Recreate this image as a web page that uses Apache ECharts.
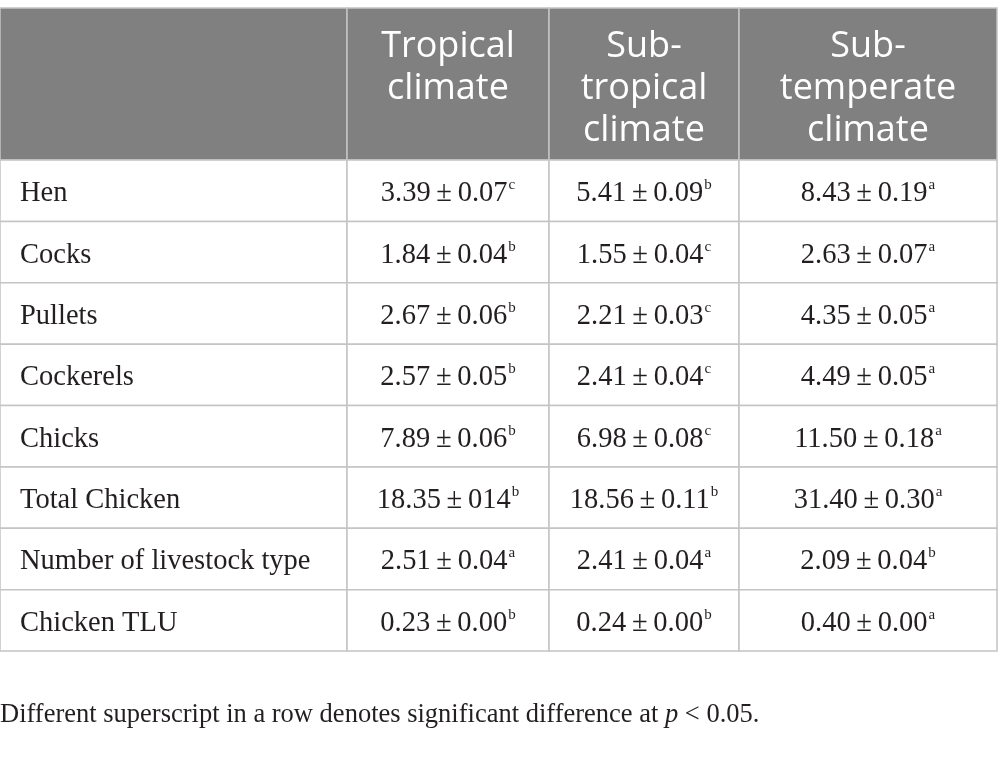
<!DOCTYPE html>
<html>
<head>
<meta charset="utf-8">
<script src="https://cdn.jsdelivr.net/npm/echarts@6/dist/echarts.min.js"></script>
<style>
  html, body { margin: 0; padding: 0; background: #fff; }
  #main { width: 998px; height: 758px; }
</style>
</head>
<body>
<div id="main"></div>
<script>
// table content
var headers = ["", "Tropical\nclimate", "Sub-\ntropical\nclimate", "Sub-\ntemperate\nclimate"]
var rowLabels = ["Hen", "Cocks", "Pullets", "Cockerels", "Chicks", "Total Chicken", "Number of livestock type", "Chicken TLU"]

var tropicalText = ["3.39 ± 0.07", "1.84 ± 0.04", "2.67 ± 0.06", "2.57 ± 0.05", "7.89 ± 0.06", "18.35 ± 014", "2.51 ± 0.04", "0.23 ± 0.00"]
var tropicalSup = ["c", "b", "b", "b", "b", "b", "a", "b"]

var subtropicalText = ["5.41 ± 0.09", "1.55 ± 0.04", "2.21 ± 0.03", "2.41 ± 0.04", "6.98 ± 0.08", "18.56 ± 0.11", "2.41 ± 0.04", "0.24 ± 0.00"]
var subtropicalSup = ["b", "c", "c", "c", "c", "b", "a", "b"]

var subtemperateText = ["8.43 ± 0.19", "2.63 ± 0.07", "4.35 ± 0.05", "4.49 ± 0.05", "11.50 ± 0.18", "31.40 ± 0.30", "2.09 ± 0.04", "0.40 ± 0.00"]
var subtemperateSup = ["a", "a", "a", "a", "a", "a", "b", "a"]

var footnote = "Different superscript in a row denotes significant difference at "

var chart = echarts.init(document.getElementById("main"))

var colEdges = [0, 347, 549, 739, 997] // pixel layout of the columns
var headTop = 8, headH = 152, bodyH = 491
var lineColor = "#c4c4c4"
var serif = "Liberation Serif"

function cellText(txt, sup) {
  return "{v|" + txt.replace(/ ± /g, "\u2009±\u2009") + "}" + (sup ? "{s|" + sup + "}" : "")
}

var grids = [], xAxes = [], yAxes = [], series = []

var columns = [
  { texts: rowLabels, sups: null, left: true },
  { texts: tropicalText, sups: tropicalSup },
  { texts: subtropicalText, sups: subtropicalSup },
  { texts: subtemperateText, sups: subtemperateSup }
]

columns.forEach(function (col, c) {
  var x0 = colEdges[c], w = colEdges[c + 1] - colEdges[c]

  // header grid
  grids.push({ left: x0, top: headTop, width: w, height: headH })
  xAxes.push({ type: "category", gridIndex: grids.length - 1, data: ["h"], show: false })
  yAxes.push({ type: "category", gridIndex: grids.length - 1, data: ["h"], show: false })
  series.push({
    type: "custom",
    xAxisIndex: grids.length - 1,
    yAxisIndex: grids.length - 1,
    data: [[0, 0, headers[c]]],
    silent: true,
    renderItem: function (params, api) {
      var p = api.coord([0, 0]), s = api.size([1, 1])
      var x = p[0] - s[0] / 2, y = p[1] - s[1] / 2
      return {
        type: "group",
        children: [
          { type: "rect", shape: { x: x, y: y, width: s[0], height: s[1] },
            style: { fill: "#808080", stroke: lineColor, lineWidth: 1.5 } },
          { type: "text", style: {
              x: p[0], y: y + 18, text: headers[c], align: "center", verticalAlign: "top",
              fill: "#ffffff", font: "36px 'Open Sans'", lineHeight: 42 } }
        ]
      }
    }
  })

  // body grid
  grids.push({ left: x0, top: headTop + headH, width: w, height: bodyH })
  xAxes.push({ type: "category", gridIndex: grids.length - 1, data: ["c"], show: false })
  yAxes.push({ type: "category", gridIndex: grids.length - 1, data: rowLabels, inverse: true, show: false })
  series.push({
    type: "custom",
    xAxisIndex: grids.length - 1,
    yAxisIndex: grids.length - 1,
    silent: true,
    data: col.texts.map(function (t, i) { return [0, i, t, col.sups ? col.sups[i] : ""] }),
    renderItem: function (params, api) {
      var i = api.value(1)
      var p = api.coord([0, i]), s = api.size([1, 1])
      var x = p[0] - s[0] / 2, y = p[1] - s[1] / 2
      var txt = col.left ? "{v|" + col.texts[i] + "}" : cellText(col.texts[i], col.sups[i])
      return {
        type: "group",
        children: [
          { type: "rect", shape: { x: x, y: y, width: s[0], height: s[1] },
            style: { fill: "#ffffff", stroke: lineColor, lineWidth: 1.5 } },
          { type: "text", style: {
              x: col.left ? x + 20 : p[0], y: p[1] + 3, text: txt,
              align: col.left ? "left" : "center", verticalAlign: "middle",
              rich: {
                v: { fontFamily: serif, fontSize: 28.5, fill: "#231f20", lineHeight: 32 },
                s: { fontFamily: serif, fontSize: 15, fill: "#231f20", lineHeight: 32, verticalAlign: "top", padding: [0, 0, 0, 1] }
              } } }
        ]
      }
    }
  })
})

chart.setOption({
  animation: false,
  grid: grids,
  xAxis: xAxes,
  yAxis: yAxes,
  series: series,
  graphic: [{
    type: "text",
    left: 0,
    top: 702,
    style: {
      text: "{n|" + footnote + "}{i|p}{n| < 0.05.}",
      rich: {
        n: { fontFamily: serif, fontSize: 26.5, fill: "#231f20" },
        i: { fontFamily: serif, fontSize: 26.5, fontStyle: "italic", fill: "#231f20" }
      }
    }
  }]
})
</script>
</body>
</html>
